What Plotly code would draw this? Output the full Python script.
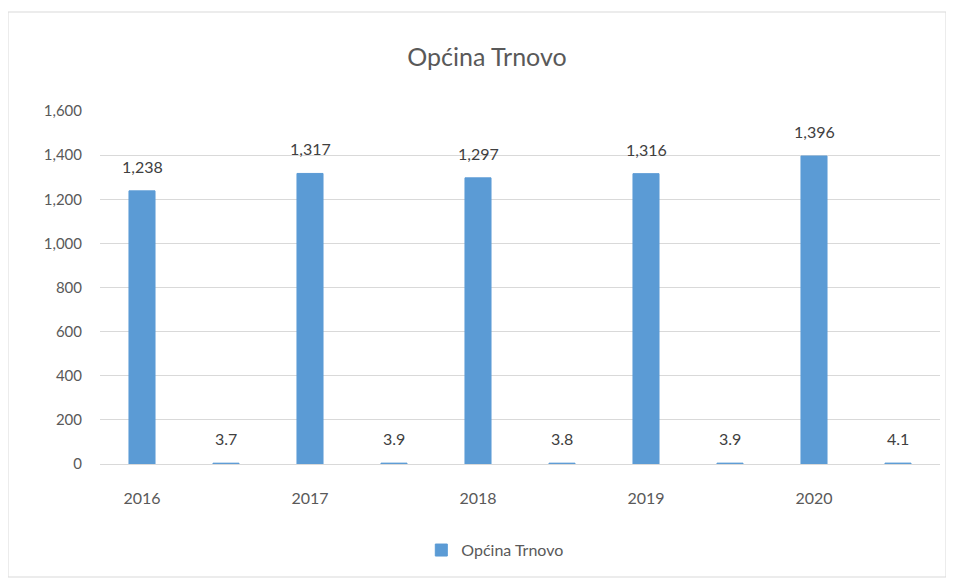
import plotly.graph_objects as go

categories = ["2016", "", "2017", "", "2018", "", "2019", "", "2020", ""]
values = [1238, 3.7, 1317, 3.9, 1297, 3.8, 1316, 3.9, 1396, 4.1]
series_name = "Općina Trnovo"
y_ticks = [0, 200, 400, 600, 800, 1000, 1200, 1400, 1600]

labels = [f"{v:,.0f}" if v >= 100 else f"{v:.1f}" for v in values]
xpos = list(range(len(categories)))

font_family = "Lato, 'Open Sans', sans-serif"
grey = "#595959"
bar_color = "#5B9BD5"

fig = go.Figure()
fig.add_trace(go.Bar(
    x=xpos, y=values, name=series_name,
    marker=dict(color=bar_color, line=dict(color=bar_color, width=1)),
    showlegend=True,
))

annotations = [dict(x=xv, y=yv, text=t, xref="x", yref="y", showarrow=False,
                    yanchor="bottom", yshift=13,
                    font=dict(size=16, color="#404040", family=font_family))
               for xv, yv, t in zip(xpos, values, labels)]

fig.update_layout(
    width=954, height=581,
    margin=dict(l=92, r=22, t=103, b=125),
    paper_bgcolor="white", plot_bgcolor="white",
    bargap=0.69,
    title=dict(text="Općina Trnovo", x=479 / 954, xanchor="center", y=1 - 49 / 581, yanchor="middle",
               font=dict(size=25, color=grey, family=font_family)),
    xaxis=dict(tickmode="array", tickvals=xpos, ticktext=categories,
               range=[-0.5, len(categories) - 0.5],
               showgrid=False, showline=True, linecolor="#d9d9d9", linewidth=1,
               ticks="", ticklabelstandoff=20,
               tickfont=dict(size=16, color=grey, family=font_family)),
    yaxis=dict(range=[0, 1600], tickvals=y_ticks, tickformat=",d",
               showgrid=True, gridcolor="#d9d9d9", gridwidth=1, zeroline=False,
               ticks="", ticklabelstandoff=17,
               tickfont=dict(size=15, color=grey, family=font_family)),
    legend=dict(orientation="h", x=0.47, xanchor="center", y=-0.244, yanchor="middle",
                itemwidth=30, font=dict(size=16, color=grey, family=font_family)),
    annotations=annotations,
    shapes=[dict(type="rect", xref="paper", yref="paper",
                 x0=(8 - 100) / 840, x1=(946 - 100) / 840,
                 y0=(464 - 577) / 353, y1=(464 - 12) / 353,
                 line=dict(color="#d9d9d9", width=1), fillcolor="rgba(0,0,0,0)", layer="below")],
)

fig.write_html("out.html")
